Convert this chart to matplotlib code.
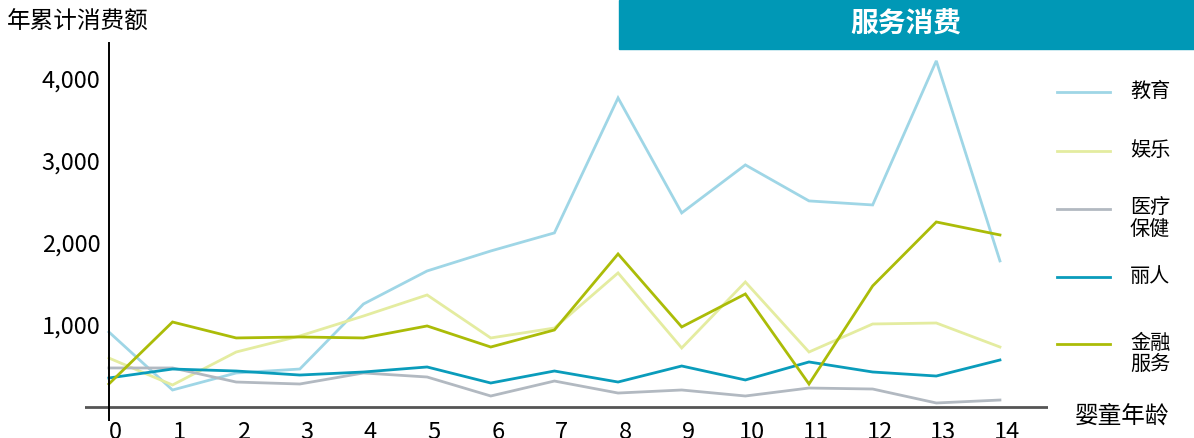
import matplotlib
matplotlib.use("Agg")
import matplotlib.pyplot as plt
import matplotlib.transforms as mtransforms
from matplotlib.patches import Rectangle
from matplotlib.lines import Line2D

plt.rcParams['font.family'] = ['Noto Sans CJK SC', 'DejaVu Sans']

# data
ages = list(range(15))
series_names = ['教育', '娱乐', '医疗\n保健', '丽人', '金融\n服务']
education = [913, 207, 414, 462, 1253, 1655, 1898, 2118, 3760, 2361,
             2945, 2507, 2458, 4211, 1777]
entertainment = [596, 268, 669, 864, 1107, 1363, 840, 961, 1631, 718,
                 1521, 669, 1010, 1022, 730]
healthcare = [475, 475, 304, 280, 414, 365, 134, 316, 170, 207,
              134, 231, 219, 49, 85]
beauty = [353, 462, 438, 389, 426, 487, 292, 438, 304, 499,
          329, 548, 426, 377, 572]
finance = [280, 1034, 840, 852, 840, 986, 730, 937, 1862, 974,
           1375, 280, 1473, 2251, 2093]
y_ticks = [1000, 2000, 3000, 4000]
y_tick_labels = ['1,000', '2,000', '3,000', '4,000']

colors = ['#9fd6e6', '#e4eca0', '#b2b9c1', '#0a9cbb', '#abbc08']
title_color = '#0098b6'

W, H = 1194, 438
fig = plt.figure(figsize=(W / 100, H / 100), dpi=100, facecolor='white')
ax = fig.add_axes([85 / W, (H - 420) / H, (1048 - 85) / W, (420 - 43) / H])

all_series = [education, entertainment, healthcare, beauty, finance]
for vals, c in zip(all_series, colors):
    ax.plot(ages, vals, color=c, lw=2.0, solid_joinstyle='miter')

ax.set_xlim(-0.375, 14.755)
ax.set_ylim(-158, 4428)

for s in ['top', 'right', 'bottom']:
    ax.spines[s].set_visible(False)
ax.spines['left'].set_position(('data', 0))
ax.spines['left'].set_linewidth(1.4)
ax.spines['left'].set_color('black')
ax.axhline(0, color='#555555', lw=2.0, zorder=0)

ax.set_yticks(y_ticks)
ax.set_yticklabels(y_tick_labels)
ax.set_xticks(ages)
ax.set_xticklabels([str(a) for a in ages])
ax.tick_params(axis='y', length=0, pad=6, labelsize=17)
ax.tick_params(axis='x', length=0, pad=1, labelsize=17)
offset = mtransforms.ScaledTranslation(7 / 100, 0, fig.dpi_scale_trans)
for lbl in ax.get_xticklabels():
    lbl.set_transform(lbl.get_transform() + offset)

# title box
fig.patches.append(Rectangle((619 / W, (H - 49) / H), 1 - 619 / W, 49 / H,
                             transform=fig.transFigure, color=title_color,
                             zorder=0))
fig.text(906 / W, 1 - 25 / H, '服务消费', color='white', fontsize=20,
         fontweight='bold', ha='center', va='center')

fig.text(7 / W, 1 - 22 / H, '年累计消费额', fontsize=17, ha='left',
         va='center')
fig.text(1075 / W, 1 - 416 / H, '婴童年龄', fontsize=17, ha='left',
         va='center')

# legend drawn by hand
legend_y = [92, 151, 209, 277, 344]
for name, c, y in zip(series_names, colors, legend_y):
    fig.lines.append(Line2D([1057 / W, 1110 / W], [1 - y / H, 1 - y / H],
                            transform=fig.transFigure, color=c, lw=2.0))
    fig.text(1130 / W, 1 - (y - 11) / H, name, fontsize=14.5, ha='left',
             va='top', linespacing=1.0)

fig.savefig('out.png', dpi=100)
